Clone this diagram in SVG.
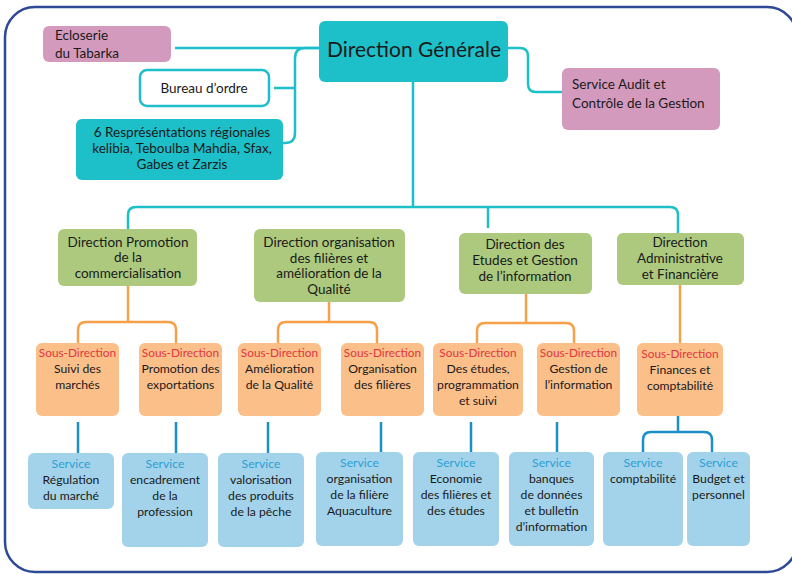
<svg xmlns="http://www.w3.org/2000/svg" width="792" height="574" viewBox="0 0 792 574">
<style>
text{font-family:Lato,"Open Sans","Liberation Sans",sans-serif;fill:#1a1a1a;}
.c{text-anchor:middle;}
.t{fill:#1dbfc9;}
.p{fill:#d49abd;}
.g{fill:#acc97e;}
.o{fill:#fbbf8a;}
.b{fill:#a3d3ea;}
.f13{font-size:13.5px;}
.f12{font-size:12.2px;}
.sd{fill:#e0373f;font-size:11.8px;}
.sv{fill:#2a9fd6;}
.lt{fill:none;stroke:#1dbfc9;stroke-width:2.5;}
.lo{fill:none;stroke:#f7a04a;stroke-width:2.5;}
.lb{fill:none;stroke:#1a8fc9;stroke-width:2.5;}
</style>
<rect x="5" y="7" width="792" height="565" rx="30" fill="#fff" stroke="#2e4a97" stroke-width="2.5"/>
<g id="connectors">
<path class="lt" d="M175,48 H319"/>
<path class="lt" d="M319,48 H305 Q295,48 295,58 V133 Q295,143 285,143 H283"/>
<path class="lt" d="M274,88 H295"/>
<path class="lt" d="M508,48 H520 Q528,48 528,56 V84 Q528,92 536,92 H562"/>
<path class="lt" d="M413,82 V207"/>
<path class="lt" d="M128,229 V215 Q128,207 136,207 H670 Q678,207 678,215 V233"/>
<path class="lt" d="M488,207 V228"/>
<path class="lo" d="M128,286 V322"/>
<path class="lo" d="M78,343 V330 Q78,322 86,322 H168 Q176,322 176,330 V343"/>
<path class="lo" d="M329,302 V322"/>
<path class="lo" d="M278,343 V330 Q278,322 286,322 H369 Q377,322 377,330 V343"/>
<path class="lo" d="M526,294 V323"/>
<path class="lo" d="M477,343 V331 Q477,323 485,323 H566 Q574,323 574,331 V343"/>
<path class="lo" d="M680,285 V343"/>
<path class="lb" d="M78,422 V453 M176,422 V453 M268,422 V453 M381,422 V453 M471,422 V453 M557,422 V453"/>
<path class="lb" d="M678,412 V432 M643,453 V440 Q643,432 651,432 H704 Q712,432 712,440 V453"/>
</g>
<g id="ecloserie"><rect class="p" x="43" y="26" width="128" height="36" rx="6"/>
<text class="f13" x="55" y="40">Ecloserie</text><text class="f13" x="55" y="58">du Tabarka</text></g>
<g id="dg"><rect class="t" x="319" y="21" width="189" height="61" rx="6"/>
<text class="c" x="414" y="57" font-size="21">Direction Générale</text></g>
<g id="bureau"><rect x="140" y="70" width="129" height="36" rx="7" fill="#fff" stroke="#1dbfc9" stroke-width="2.5"/>
<text class="c f13" x="204" y="93">Bureau d’ordre</text></g>
<g id="representations"><rect class="t" x="76" y="119" width="207" height="61" rx="6"/>
<text class="c f13" x="182" y="137">6 Respréséntations régionales</text>
<text class="c f13" x="182" y="153">kelibia, Teboulba Mahdia, Sfax,</text>
<text class="c f13" x="182" y="169">Gabes et Zarzis</text></g>
<g id="audit"><rect class="p" x="562" y="68" width="158" height="62" rx="6"/>
<text class="f13" x="572" y="89">Service Audit et</text><text class="f13" x="572" y="108">Contrôle de la Gestion</text></g>
<g id="dir-promotion"><rect class="g" x="58" y="229" width="139" height="57" rx="6"/>
<text class="c f13" x="128" y="247">Direction Promotion</text><text class="c f13" x="128" y="262">de la</text><text class="c f13" x="128" y="278">commercialisation</text></g>
<g id="dir-organisation"><rect class="g" x="254" y="229" width="151" height="73" rx="6"/>
<text class="c f13" x="329" y="247">Direction organisation</text><text class="c f13" x="329" y="263">des filières et</text><text class="c f13" x="329" y="278">amélioration de la</text><text class="c f13" x="329" y="294">Qualité</text></g>
<g id="dir-etudes"><rect class="g" x="459" y="233" width="133" height="61" rx="6"/>
<text class="c f13" x="525" y="249">Direction des</text><text class="c f13" x="525" y="265">Etudes et Gestion</text><text class="c f13" x="525" y="281">de l’information</text></g>
<g id="dir-admin"><rect class="g" x="617" y="233" width="127" height="52" rx="6"/>
<text class="c f13" x="680" y="247">Direction</text><text class="c f13" x="680" y="263">Administrative</text><text class="c f13" x="680" y="279">et Financière</text></g>
<g id="sd1"><rect class="o" x="36" y="343" width="83" height="73" rx="6"/>
<text class="c sd" x="77.5" y="357">Sous-Direction</text><text class="c f12" x="77.5" y="373">Suivi des</text><text class="c f12" x="77.5" y="389">marchés</text></g>
<g id="sd2"><rect class="o" x="139" y="343" width="83" height="73" rx="6"/>
<text class="c sd" x="180.5" y="357">Sous-Direction</text><text class="c f12" x="180.5" y="373">Promotion des</text><text class="c f12" x="180.5" y="389">exportations</text></g>
<g id="sd3"><rect class="o" x="238" y="343" width="83" height="73" rx="6"/>
<text class="c sd" x="279.5" y="357">Sous-Direction</text><text class="c f12" x="279.5" y="373">Amélioration</text><text class="c f12" x="279.5" y="389">de la Qualité</text></g>
<g id="sd4"><rect class="o" x="341" y="343" width="83" height="73" rx="6"/>
<text class="c sd" x="382.5" y="357">Sous-Direction</text><text class="c f12" x="382.5" y="373">Organisation</text><text class="c f12" x="382.5" y="389">des filières</text></g>
<g id="sd5"><rect class="o" x="433" y="343" width="90" height="73" rx="6"/>
<text class="c sd" x="478" y="357">Sous-Direction</text><text class="c f12" x="478" y="373">Des études,</text><text class="c f12" x="478" y="389">programmation</text><text class="c f12" x="478" y="405">et suivi</text></g>
<g id="sd6"><rect class="o" x="537" y="343" width="83" height="73" rx="6"/>
<text class="c sd" x="578.5" y="357">Sous-Direction</text><text class="c f12" x="578.5" y="373">Gestion de</text><text class="c f12" x="578.5" y="389">l’information</text></g>
<g id="sd7"><rect class="o" x="637" y="343" width="86" height="73" rx="6"/>
<text class="c sd" x="680" y="358">Sous-Direction</text><text class="c f12" x="680" y="374">Finances et</text><text class="c f12" x="680" y="390">comptabilité</text></g>
<g id="s1"><rect class="b" x="28" y="453" width="86" height="56" rx="6"/>
<text class="c f12 sv" x="71" y="468">Service</text><text class="c f12" x="71" y="484">Régulation</text><text class="c f12" x="71" y="500">du marché</text></g>
<g id="s2"><rect class="b" x="122" y="453" width="86" height="94" rx="6"/>
<text class="c f12 sv" x="165" y="468">Service</text><text class="c f12" x="165" y="484">encadrement</text><text class="c f12" x="165" y="500">de la</text><text class="c f12" x="165" y="516">profession</text></g>
<g id="s3"><rect class="b" x="218" y="453" width="86" height="94" rx="6"/>
<text class="c f12 sv" x="261" y="468">Service</text><text class="c f12" x="261" y="484">valorisation</text><text class="c f12" x="261" y="500">des produits</text><text class="c f12" x="261" y="516">de la pêche</text></g>
<g id="s4"><rect class="b" x="316" y="452" width="87" height="94" rx="6"/>
<text class="c f12 sv" x="359.5" y="467">Service</text><text class="c f12" x="359.5" y="483">organisation</text><text class="c f12" x="359.5" y="499">de la filière</text><text class="c f12" x="359.5" y="515">Aquaculture</text></g>
<g id="s5"><rect class="b" x="413" y="452" width="86" height="94" rx="6"/>
<text class="c f12 sv" x="456" y="467">Service</text><text class="c f12" x="456" y="483">Economie</text><text class="c f12" x="456" y="499">des filières et</text><text class="c f12" x="456" y="515">des études</text></g>
<g id="s6"><rect class="b" x="509" y="452" width="85" height="94" rx="6"/>
<text class="c f12 sv" x="551.5" y="467">Service</text><text class="c f12" x="551.5" y="483">banques</text><text class="c f12" x="551.5" y="499">de données</text><text class="c f12" x="551.5" y="515">et bulletin</text><text class="c f12" x="551.5" y="531">d’information</text></g>
<g id="s7"><rect class="b" x="603" y="452" width="80" height="94" rx="6"/>
<text class="c f12 sv" x="643" y="467">Service</text><text class="c f12" x="643" y="483">comptabilité</text></g>
<g id="s8"><rect class="b" x="687" y="452" width="63" height="94" rx="6"/>
<text class="c f12 sv" x="718.5" y="467">Service</text><text class="c f12" x="718.5" y="483">Budget et</text><text class="c f12" x="718.5" y="499">personnel</text></g>
</svg>
